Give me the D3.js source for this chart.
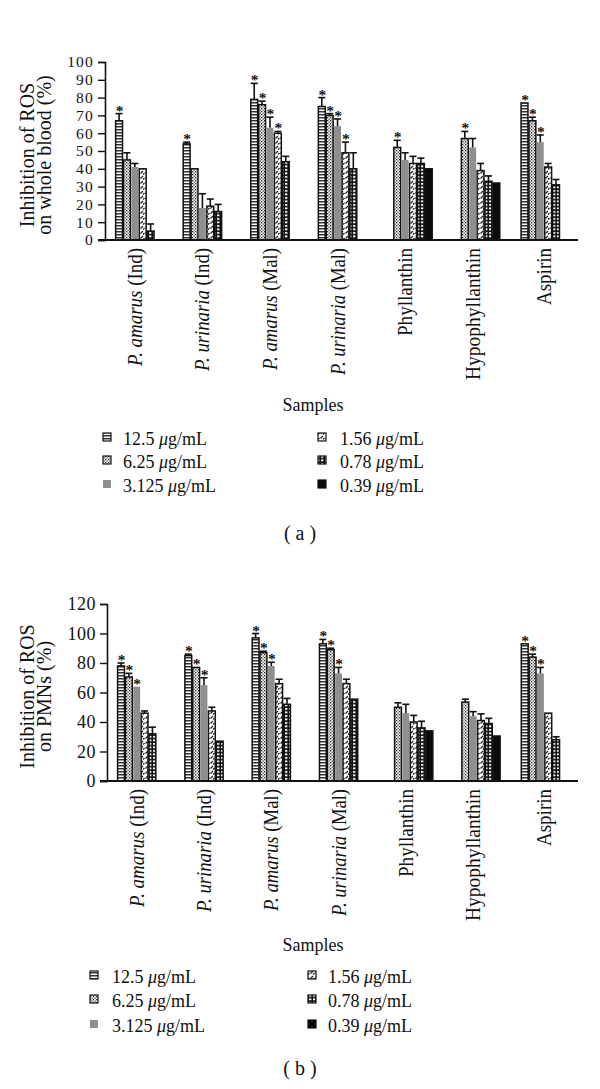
<!DOCTYPE html>
<html>
<head>
<meta charset="utf-8">
<script src="https://cdn.jsdelivr.net/npm/d3@7/dist/d3.min.js"></script>
<style>
html,body{margin:0;padding:0;background:#fff;}
svg{display:block;}
text{font-family:"Liberation Serif","Times New Roman",serif;fill:#111;}
</style>
</head>
<body>
<svg id="chart" width="600" height="1089"></svg>
<script>
// ---------- DATA ----------
const categories = ["P. amarus (Ind)", "P. urinaria (Ind)", "P. amarus (Mal)", "P. urinaria (Mal)", "Phyllanthin", "Hypophyllanthin", "Aspirin"];
const seriesNames = ["12.5", "6.25", "3.125", "1.56", "0.78", "0.39"];

// Panel (a): whole blood
const a_12_5  = [67, 54, 79, 75, null, null, 77];
const a_6_25  = [45, 40, 76, 70, 52, 57, 67];
const a_3_125 = [41, 18, 63, 64, 45, 52, 55];
const a_1_56  = [40, 19, 60, 49, 43, 39, 41];
const a_0_78  = [5, 16, 44, 40, 43, 33, 31];
const a_0_39  = [null, null, null, null, 40, 32, null];
const aErr_12_5  = [4, 1, 9, 5, 0, 0, 0];
const aErr_6_25  = [4, 0, 2, 1, 4, 4, 2];
const aErr_3_125 = [2, 8, 6, 4, 4, 5, 4];
const aErr_1_56  = [0, 4, 1, 6, 4, 4, 2];
const aErr_0_78  = [4, 4, 3, 9, 3, 3, 3];
const aErr_0_39  = [0, 0, 0, 0, 0, 0, 0];
const aStar_12_5  = [1, 1, 1, 1, 0, 0, 1];
const aStar_6_25  = [0, 0, 1, 1, 1, 1, 1];
const aStar_3_125 = [0, 0, 1, 1, 0, 0, 1];
const aStar_1_56  = [0, 0, 1, 1, 0, 0, 0];
const aStar_0_78  = [0, 0, 0, 0, 0, 0, 0];
const aStar_0_39  = [0, 0, 0, 0, 0, 0, 0];
const aTicks = [0, 10, 20, 30, 40, 50, 60, 70, 80, 90, 100];

// Panel (b): PMNs
const b_12_5  = [78, 85, 97, 93, null, null, 93];
const b_6_25  = [70.5, 77, 87, 89, 50, 53.5, 84];
const b_3_125 = [64, 65, 78, 73, 46, 44, 73];
const b_1_56  = [46, 47.5, 66, 66, 40, 41, 46];
const b_0_78  = [32, 27, 52, 55.5, 36, 39, 28];
const b_0_39  = [null, null, null, null, 34, 30.5, null];
const bErr_12_5  = [2, 1, 3, 3, 0, 0, 0];
const bErr_6_25  = [2.5, 0, 1, 1, 3, 2, 2];
const bErr_3_125 = [0, 5, 2.5, 4, 6, 3, 4];
const bErr_1_56  = [1.5, 2.5, 3, 3, 4.5, 4.5, 0];
const bErr_0_78  = [4.5, 0, 4, 0, 4.5, 3.5, 2];
const bErr_0_39  = [0, 0, 0, 0, 0, 0, 0];
const bStar_12_5  = [1, 1, 1, 1, 0, 0, 1];
const bStar_6_25  = [1, 1, 1, 1, 0, 0, 1];
const bStar_3_125 = [1, 1, 1, 1, 0, 0, 1];
const bStar_1_56  = [0, 0, 0, 0, 0, 0, 0];
const bStar_0_78  = [0, 0, 0, 0, 0, 0, 0];
const bStar_0_39  = [0, 0, 0, 0, 0, 0, 0];
const bTicks = [0, 20, 40, 60, 80, 100, 120];

const legendLabels = ["12.5 μg/mL", "6.25 μg/mL", "3.125 μg/mL", "1.56 μg/mL", "0.78 μg/mL", "0.39 μg/mL"];

// layout only: rendered lengths of the rotated category labels (px)
const labelLengths = [118, 123, 122, 127, 88, 132, 57];

// ---------- DRAWING ----------
const svg = d3.select("#chart");
const defs = svg.append("defs");

function pat(id, w, h, build) {
  const p = defs.append("pattern").attr("id", id).attr("patternUnits", "userSpaceOnUse")
    .attr("width", w).attr("height", h);
  build(p);
}
pat("p125", 4, 3, p => {
  p.append("rect").attr("width", 4).attr("height", 3).attr("fill", "#fff");
  p.append("rect").attr("y", 0).attr("width", 4).attr("height", 1.5).attr("fill", "#333");
});
pat("p625", 3, 3, p => {
  p.append("rect").attr("width", 3).attr("height", 3).attr("fill", "#fff");
  p.append("rect").attr("x", 0).attr("y", 0).attr("width", 1.3).attr("height", 1.3).attr("fill", "#222");
  p.append("rect").attr("x", 1.5).attr("y", 1.5).attr("width", 1.3).attr("height", 1.3).attr("fill", "#444");
});
pat("p156", 5, 5, p => {
  p.append("rect").attr("width", 5).attr("height", 5).attr("fill", "#fff");
  p.append("path").attr("d", "M0.5,3.5 L3,1 M3,4.5 L4.5,3").attr("stroke", "#222").attr("stroke-width", 1.2).attr("fill", "none");
});
pat("p078", 4, 3.5, p => {
  p.append("rect").attr("width", 4).attr("height", 3.5).attr("fill", "#111");
  p.append("rect").attr("x", 1).attr("y", 1).attr("width", 2.4).attr("height", 1.8).attr("fill", "#fff");
});

const fills = ["url(#p125)", "url(#p625)", "#8f8f8f", "url(#p156)", "url(#p078)", "#0a0a0a"];
const strokes = ["#111", "#111", "none", "#111", "#111", "#111"];

function drawPanel(cfg) {
  const g = svg.append("g");
  const y = d3.scaleLinear().domain([0, cfg.max]).range([cfg.y0, cfg.yTop]);
  const x0 = d3.scaleBand().domain(categories).range([cfg.axisX, 578]).paddingInner(0.3).paddingOuter(0.15);
  const x1 = d3.scaleBand().domain(seriesNames).range([0, x0.bandwidth()]);

  cfg.series.forEach((vals, si) => {
    categories.forEach((c, ci) => {
      const v = vals[ci];
      if (v === null) return;
      const bx = x0(c) + x1(seriesNames[si]);
      const bw = x1.bandwidth();
      g.append("rect")
        .attr("x", bx + 0.5).attr("y", y(v))
        .attr("width", bw - 1).attr("height", y(0) - y(v))
        .attr("fill", fills[si])
        .attr("stroke", strokes[si]).attr("stroke-width", 1.5);
      const e = cfg.errs[si][ci];
      const cx = bx + bw / 2;
      if (e > 0) {
        g.append("line").attr("x1", cx).attr("x2", cx).attr("y1", y(v)).attr("y2", y(v + e))
          .attr("stroke", "#111").attr("stroke-width", 1.6);
        g.append("line").attr("x1", cx - 3.5).attr("x2", cx + 3.5).attr("y1", y(v + e)).attr("y2", y(v + e))
          .attr("stroke", "#111").attr("stroke-width", 1.6);
      }
      if (cfg.stars[si][ci]) {
        g.append("text").attr("x", cx + 0.5).attr("y", y(v + e) + 2)
          .attr("text-anchor", "middle").attr("font-size", 15.5).attr("font-weight", "bold").text("*");
      }
    });
  });

  // y axis
  const yAxis = d3.axisLeft(y).tickValues(cfg.ticks).tickSize(7).tickPadding(4).tickFormat(d3.format("d"));
  const ya = g.append("g").attr("transform", `translate(${cfg.axisX},0)`).call(yAxis);
  ya.select(".domain").attr("stroke", "#111").attr("stroke-width", 1.6);
  ya.selectAll(".tick line").attr("stroke", "#111").attr("stroke-width", 1.4);
  ya.selectAll(".tick text").attr("font-family", "Liberation Serif, serif").attr("font-size", cfg.tickFont)
    .attr("letter-spacing", cfg.tickSpacing).attr("fill", "#111");

  // x axis line
  g.append("line").attr("x1", cfg.axisX - 7).attr("x2", 578).attr("y1", y(0)).attr("y2", y(0))
    .attr("stroke", "#111").attr("stroke-width", 1.8);

  // category labels
  categories.forEach((c, ci) => {
    const lx = x0(c) + x0.bandwidth() / 2 - (ci === 6 ? 0 : 4);
    const t = g.append("text").attr("transform", `translate(${lx},${y(0) + 8}) rotate(-90)`)
      .attr("text-anchor", "end").attr("dy", "0.35em").attr("font-size", 20)
      .attr("textLength", labelLengths[ci]).attr("lengthAdjust", "spacingAndGlyphs");
    if (c.startsWith("P. ")) {
      const parts = c.split(" ");
      t.append("tspan").attr("font-style", "italic").text(parts[0] + " " + parts[1]);
      t.append("tspan").text(" " + parts[2]);
    } else {
      t.text(c);
    }
  });

  // y title
  const ymid = (cfg.y0 + cfg.yTop) / 2 + 4;
  g.append("text").attr("transform", `translate(34,${ymid}) rotate(-90)`).attr("text-anchor", "middle")
    .attr("font-size", 20).text(cfg.title1);
  g.append("text").attr("transform", `translate(51,${ymid}) rotate(-90)`).attr("text-anchor", "middle")
    .attr("font-size", 20).text(cfg.title2);

  g.append("text").attr("x", 313).attr("y", cfg.samplesY).attr("text-anchor", "middle").attr("font-size", 18).text("Samples");

  // legend
  legendLabels.forEach((lab, i) => {
    const col = Math.floor(i / 3), row = i % 3;
    const sx = cfg.leg.sx[col], tx = cfg.leg.tx[col];
    const by = cfg.leg.rows[row];
    g.append("rect").attr("x", sx).attr("y", by - 12).attr("width", 8).attr("height", 8)
      .attr("fill", fills[i]).attr("stroke", strokes[i] === "none" ? "none" : "#111").attr("stroke-width", 1.2);
    const parts = lab.split(" ");
    const t = g.append("text").attr("x", tx).attr("y", by).attr("font-size", 18);
    t.append("tspan").text(parts[0] + " ");
    t.append("tspan").attr("font-style", "italic").text("μ");
    t.append("tspan").text("g/mL");
  });

  g.append("text").attr("x", 300).attr("y", cfg.panelY).attr("text-anchor", "middle")
    .attr("font-family", "Liberation Sans, Arial, sans-serif").attr("font-size", 20)
    .attr("xml:space", "preserve").style("white-space", "pre").text(cfg.panel);
}

drawPanel({
  max: 100, y0: 240, yTop: 62, axisX: 105, ticks: aTicks, tickFont: 15.5, tickSpacing: 1.2,
  series: [a_12_5, a_6_25, a_3_125, a_1_56, a_0_78, a_0_39],
  errs: [aErr_12_5, aErr_6_25, aErr_3_125, aErr_1_56, aErr_0_78, aErr_0_39],
  stars: [aStar_12_5, aStar_6_25, aStar_3_125, aStar_1_56, aStar_0_78, aStar_0_39],
  title1: "Inhibition of ROS", title2: "on whole blood (%)",
  samplesY: 411,
  leg: { sx: [103, 318], tx: [123, 340], rows: [445, 468, 492] },
  panel: "( a )", panelY: 540
});

drawPanel({
  max: 120, y0: 781, yTop: 604, axisX: 107, ticks: bTicks, tickFont: 18, tickSpacing: 0.5,
  series: [b_12_5, b_6_25, b_3_125, b_1_56, b_0_78, b_0_39],
  errs: [bErr_12_5, bErr_6_25, bErr_3_125, bErr_1_56, bErr_0_78, bErr_0_39],
  stars: [bStar_12_5, bStar_6_25, bStar_3_125, bStar_1_56, bStar_0_78, bStar_0_39],
  title1: "Inhibition of ROS", title2: "on PMNs (%)",
  samplesY: 951,
  leg: { sx: [90, 308], tx: [112, 328], rows: [983, 1007, 1032] },
  panel: "( b )", panelY: 1075
});
</script>
</body>
</html>
